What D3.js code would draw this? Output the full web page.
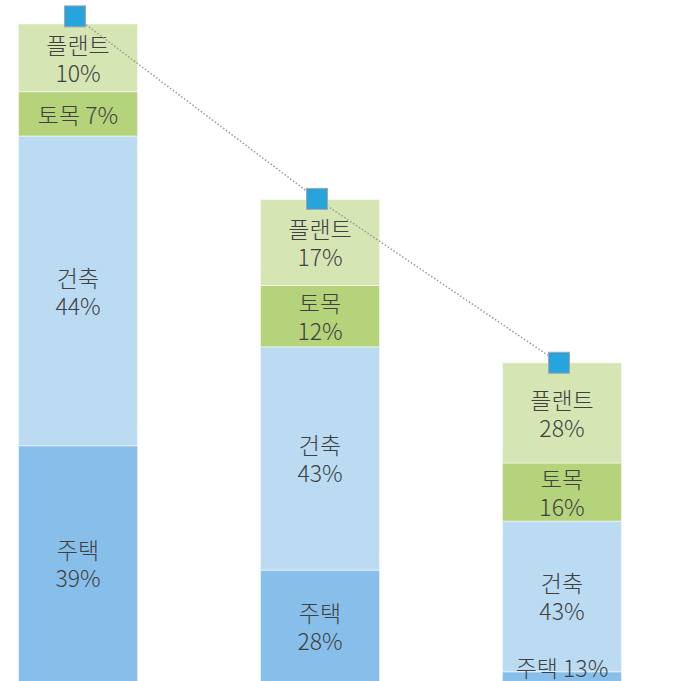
<!DOCTYPE html>
<html>
<head>
<meta charset="utf-8">
<script src="https://cdn.jsdelivr.net/npm/d3@7"></script>
<style>
    body { margin: 0; background: #fff; }
    .segLabel { font-family: "Noto Sans CJK KR", "Noto Sans", sans-serif; font-size: 23px; font-weight: 300; fill: #404040; }
</style>
</head>
<body>
<div id="chart"></div>
<script>
'use strict';

// Data
const bars = ['A', 'B', 'C'];
const sectors = ['주택', '건축', '토목', '플랜트'];
const housing = [39.1, 21.1, 6.4];
const building = [44.8, 32.3, 21.8];
const civil = [6.4, 8.9, 8.4];
const plant = [9.8, 12.4, 14.5];
const shareLabels = [
    ['39%', '44%', '7%', '10%'],
    ['28%', '43%', '12%', '17%'],
    ['13%', '43%', '16%', '28%']
];
const trend = [101.2, 74.8, 51.1];

// Config svg
const w = 686;
const h = 681;
const floorY = 716;   // chart floor sits below the cropped window
const topY = 24;

const svg = d3.select('#chart')
    .append('svg')
    .attr('width', w)
    .attr('height', h);

// Build rows for the stack
const rows = bars.map((b, i) => ({
    bar: b,
    '주택': housing[i],
    '건축': building[i],
    '토목': civil[i],
    '플랜트': plant[i]
}));
const stacked = d3.stack().keys(sectors)(rows);

// Scales
const x = d3.scaleBand()
    .domain(bars)
    .range([-42, 682])
    .paddingInner(0.508)
    .paddingOuter(0.25);
const y = d3.scaleLinear()
    .domain([0, d3.max(rows, r => d3.sum(sectors, k => r[k]))])
    .range([floorY, topY]);
const color = d3.scaleOrdinal()
    .domain(sectors)
    .range(['#88bfea', '#bbdbf3', '#b4d37b', '#d5e5b4']);

// Segments
const layers = svg.append('g').selectAll('g')
    .data(stacked)
    .join('g')
    .attr('fill', d => color(d.key));

layers.selectAll('rect')
    .data(d => d.map((s, i) => ({key: d.key, s: s, i: i})))
    .join('rect')
    .attr('x', d => x(bars[d.i]))
    .attr('width', x.bandwidth())
    .attr('y', d => y(d.s[1]))
    .attr('height', d => y(d.s[0]) - y(d.s[1]))
    .attr('stroke', '#fff')
    .attr('stroke-opacity', 0.5)
    .attr('stroke-width', 1);

// Labels: centred on the visible part of each segment
const labelG = svg.append('g');
stacked.forEach((layer, k) => {
    layer.forEach((s, i) => {
        const y0 = Math.min(y(s[0]), h);
        const y1 = y(s[1]);
        const cx = x(bars[i]) + x.bandwidth() / 2;
        const cy = Math.min((y0 + y1) / 2, h - 14);
        const name = layer.key;
        const pct = shareLabels[i][k];
        const t = labelG.append('text')
            .attr('class', 'segLabel')
            .attr('text-anchor', 'middle');
        if (y(s[0]) - y1 < 50) {
            t.append('tspan')
                .attr('x', cx)
                .attr('y', cy)
                .attr('dominant-baseline', 'central')
                .text(`${name} ${pct}`);
        } else {
            t.append('tspan')
                .attr('x', cx)
                .attr('y', cy - 14)
                .attr('dominant-baseline', 'central')
                .text(name);
            t.append('tspan')
                .attr('x', cx)
                .attr('y', cy + 14)
                .attr('dominant-baseline', 'central')
                .text(pct);
        }
    });
});

// Trend line with square markers
const shift = -3;
const px = (d, i) => x(bars[i]) + x.bandwidth() / 2 + shift;
svg.append('path')
    .datum(trend)
    .attr('fill', 'none')
    .attr('stroke', '#9a9a9a')
    .attr('stroke-width', 1.5)
    .attr('stroke-dasharray', '1.5 2')
    .attr('d', d3.line().x(px).y(d => y(d)));

const ms = 21;
svg.append('g').selectAll('rect')
    .data(trend)
    .join('rect')
    .attr('x', (d, i) => px(d, i) - ms / 2)
    .attr('y', d => y(d) - ms / 2)
    .attr('width', ms)
    .attr('height', ms)
    .attr('fill', '#26a4de')
    .attr('stroke', '#a6a6a6')
    .attr('stroke-width', 1);
</script>
</body>
</html>
